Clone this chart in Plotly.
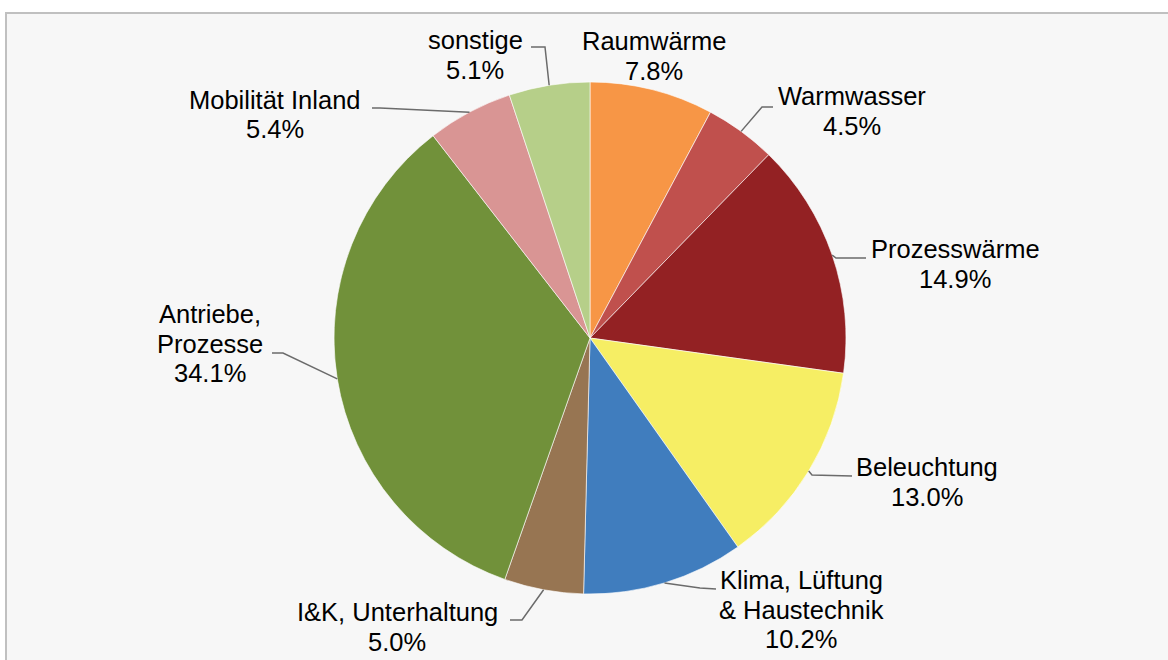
import math
import plotly.graph_objects as go

# ---- data ----
categories = ["Raumwärme", "Warmwasser", "Prozesswärme", "Beleuchtung",
              "Klima, Lüftung<br>& Haustechnik", "I&K, Unterhaltung",
              "Antriebe,<br>Prozesse", "Mobilität Inland", "sonstige"]
values = [7.8, 4.5, 14.9, 13.0, 10.2, 5.0, 34.1, 5.4, 5.1]
colors = ["#F79646", "#C0504D", "#932123", "#F6EE64", "#407DBE",
          "#977552", "#71913A", "#D99594", "#B6CF89"]

# ---- layout (pixels) ----
W, H = 1168, 660
CX, CY, R = 590, 338, 256
FONT = "Liberation Sans, Arial, sans-serif"
FS = 25.5
LINE_GAP = 29.5
# first-line centre of each label
label_pos = [(654, 41), (852, 96), (955, 249), (927, 467), (801, 580),
             (397, 612), (210, 314), (275, 100), (475, 40)]
# leader: (elbow point, end point at text) or None
leaders = [None,
           ((762, 107), (773, 107)),
           ((836, 258), (866, 258)),
           ((812, 475), (852, 476)),
           ((700, 588), (716, 589)),
           ((522, 620), (510, 620)),
           ((283, 353), (272, 353)),
           ((380, 108), (372, 108)),
           ((545, 47), (531, 47))]


def px(x):
    return x / W


def py(y):
    return 1 - y / H


fig = go.Figure(go.Pie(
    labels=categories, values=values, sort=False, direction="clockwise",
    rotation=0, textinfo="none", hoverinfo="label+percent",
    marker=dict(colors=colors, line=dict(color="rgba(255,255,255,0.6)", width=1)),
    domain=dict(x=[px(CX - R), px(CX + R)], y=[py(CY + R), py(CY - R)]),
    showlegend=False,
))

total = sum(values)
annotations = []
shapes = [dict(type="rect", xref="paper", yref="paper",
               x0=px(6), x1=px(W + 10), y0=py(H + 10), y1=py(13),
               fillcolor="#F7F7F7", line=dict(color="#C0C0C0", width=2),
               layer="below")]

cum = 0.0
for i, (cat, v) in enumerate(zip(categories, values)):
    mid = (cum + v / 2) / total * 2 * math.pi
    cum += v
    lines = cat.split("<br>") + [f"{v:.1f}%"]
    lx, ly = label_pos[i]
    for j, t in enumerate(lines):
        annotations.append(dict(
            x=px(lx), y=py(ly + j * LINE_GAP), xref="paper", yref="paper",
            text=t, showarrow=False, xanchor="center", yanchor="middle",
            font=dict(family=FONT, size=FS, color="#000000")))
    if leaders[i] is not None:
        ex = CX + R * math.sin(mid)
        ey = CY - R * math.cos(mid)
        (bx, by), (tx, ty) = leaders[i]
        path = (f"M {px(ex)} {py(ey)} L {px(bx)} {py(by)} L {px(tx)} {py(ty)}")
        shapes.append(dict(type="path", xref="paper", yref="paper", path=path,
                           line=dict(color="#6B6B6B", width=1.5)))

fig.update_layout(
    width=W, height=H, margin=dict(l=0, r=0, t=0, b=0),
    paper_bgcolor="#FFFFFF", plot_bgcolor="#FFFFFF",
    annotations=annotations, shapes=shapes,
)

fig.write_html("out.html", config={"displayModeBar": False},
               post_script="document.body.style.margin='0';")
